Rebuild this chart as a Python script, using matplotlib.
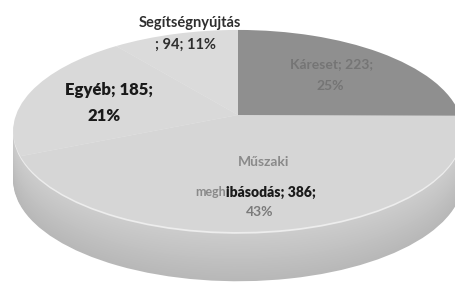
import numpy as np
import matplotlib
matplotlib.use("Agg")
import matplotlib.pyplot as plt
from matplotlib.transforms import Transform, Affine2D

# ---- data ----
categories = ["Káreset", "Műszaki meghibásodás", "Egyéb", "Segítségnyújtás"]
values = [223, 386, 185, 94]
percents = [25, 43, 21, 11]

top_colors = ["#8f8f8f", "#d6d6d6", "#d9d9d9", "#dbdbdb"]

W, H = 456, 284
fig = plt.figure(figsize=(W / 100, H / 100), dpi=100)
fig.patch.set_facecolor("white")
ax = fig.add_axes([0, 0, 1, 1])
ax.axis("off")

cx, cy, rx, ry = 238, 115, 222, 98.5


class Persp(Transform):
    input_dims = output_dims = 2
    is_separable = False
    has_inverse = False

    def __init__(self, p):
        super().__init__()
        self.p = p

    def transform_non_affine(self, v):
        v = np.asarray(v, float)
        w = 1 + self.p * v[:, 1]
        return np.column_stack([v[:, 0] / w, v[:, 1] / w])


persp = Persp(0.158)
thick = 0.50


def draw_layer(d, colors):
    wedges, _ = ax.pie(values, colors=colors, startangle=90, counterclock=False,
                       radius=1.0, wedgeprops=dict(linewidth=0))
    for w in wedges:
        w.set_transform(persp + Affine2D().translate(0, -d) + ax.transData)


n = 40
c_top = np.array([0.80, 0.80, 0.80])
c_bot = np.array([0.72, 0.72, 0.72])
for i, d in enumerate(np.linspace(thick, 0.03, n)):
    f = i / (n - 1)
    col = c_bot * (1 - f) + c_top * f
    cols = [tuple(col * 0.75)] + [tuple(col)] * 3
    draw_layer(d, cols)
draw_layer(0.018, ["#9a9a9a", "#ededed", "#ededed", "#ededed"])
draw_layer(0.0, top_colors)

ax.set_aspect("auto")
ax.set_xlim((0 - cx) / rx, (W - cx) / rx)
ax.set_ylim((cy - H) / ry, cy / ry)


def px(x, y):
    return (x / W, 1 - y / H)


fam = ["Lato", "DejaVu Sans"]
fs = 12


def lab(x, y, s, color="#1a1a1a", weight="heavy", size=fs):
    fx, fy = px(x, y)
    fig.text(fx, fy, s, ha="center", va="center", fontsize=size, color=color,
             fontweight=weight, family=fam)


# Segítségnyújtás
lab(190, 23, f"{categories[3]}", color="#2e2e2e", weight="bold", size=10.5)
lab(186, 45, f"; {values[3]}; {percents[3]}%", color="#2e2e2e", weight="bold", size=10.5)
# Egyéb
lab(109, 90, f"{categories[2]}; {values[2]};")
lab(104, 116, f"{percents[2]}%")
# Káreset (faded)
lab(332, 64, f"{categories[0]}; {values[0]};", color="#757575", weight="bold", size=10)
lab(330, 86, f"{percents[0]}%", color="#757575", weight="bold", size=10)
# Műszaki meghibásodás
lab(264, 162, "Műszaki", color="#8a8a8a", weight="bold", size=10)
fx, fy = px(226, 192)
fig.text(fx, fy, "megh", ha="right", va="center", fontsize=9, color="#8a8a8a",
         fontweight="bold", family=fam)
fig.text(fx, fy, f"ibásodás; {values[1]};", ha="left", va="center", fontsize=10,
         color="#1a1a1a", fontweight="heavy", family=fam)
lab(260, 212, f"{percents[1]}%", color="#7a7a7a", weight="bold", size=10)

fig.savefig("out.png", dpi=100, facecolor="white")
